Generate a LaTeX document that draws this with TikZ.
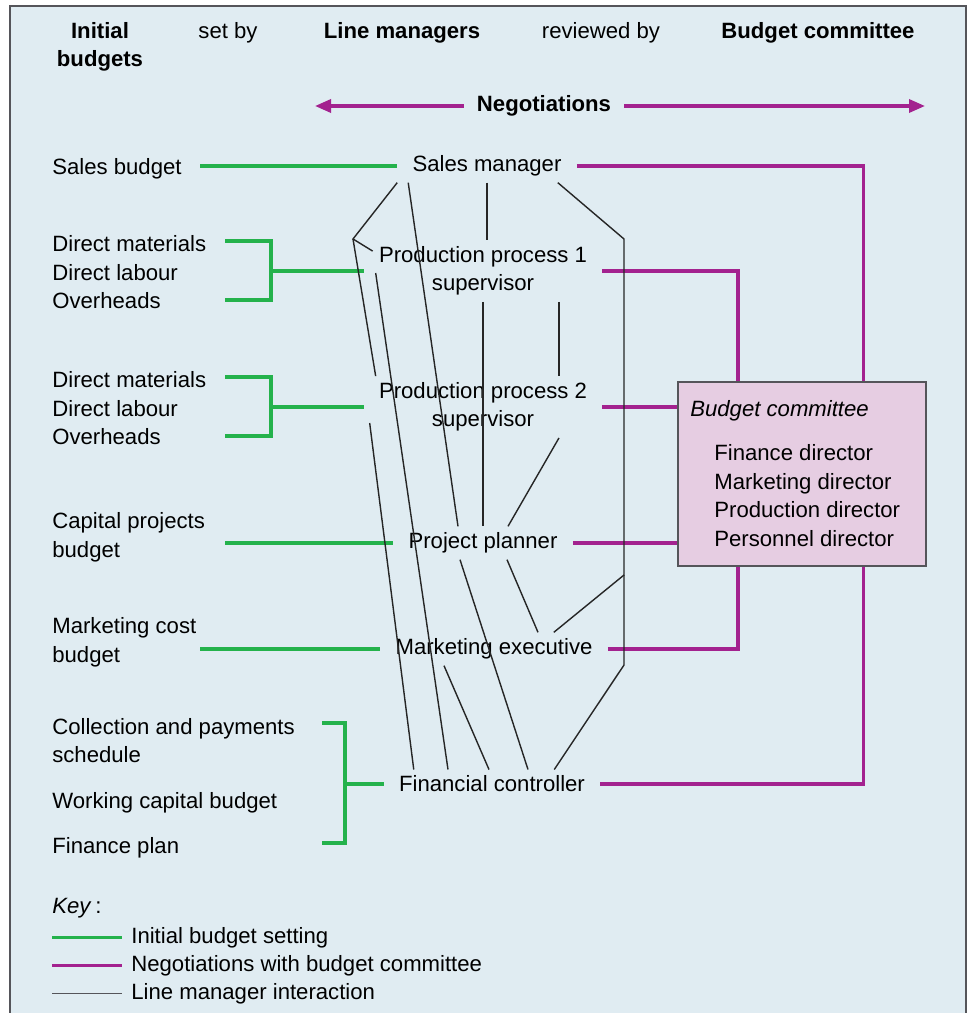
\documentclass[tikz,border=0pt]{standalone}
\usepackage{fontspec}
\setmainfont{Liberation Sans}
\usetikzlibrary{calc,arrows.meta}

\definecolor{bgblue}{RGB}{224,236,242}
\definecolor{boxpink}{RGB}{230,205,226}
\definecolor{negmag}{RGB}{163,34,143}
\definecolor{initgreen}{RGB}{36,178,76}
\definecolor{framegray}{RGB}{85,85,90}

\begin{document}
\begin{tikzpicture}[x=0.02cm, y=-0.02cm, font=\fontsize{12.6}{16.2}\selectfont]

    % Define styles
    \tikzstyle{txt} = [inner sep=0pt, anchor=west, align=left, yshift=-0.05cm]
    \tikzstyle{head} = [inner sep=0pt, align=center]
    \tikzstyle{mgr} = [inner xsep=0.3cm, inner ysep=0.12cm, align=center]
    \tikzstyle{grn} = [draw=initgreen, line width=1.9pt]
    \tikzstyle{mag} = [draw=negmag, line width=1.9pt]
    \tikzstyle{blk} = [draw=black!85, line width=0.8pt]
    \tikzstyle{combox} = [draw=framegray, fill=boxpink, line width=0.9pt, anchor=north west, minimum width=4.96cm, minimum height=3.68cm]

    % FRAME
    \useasboundingbox (0,0) rectangle (970,1013);
    \fill[bgblue] (10,6) rectangle (966,1013);
    \draw[framegray, line width=1.1pt] (10,1013) -- (10,6) -- (966,6) -- (966,1013);

    % HEADINGS
    \node (h_init) [head] at (100,47) {\bfseries Initial\\\bfseries budgets};
    \node (h_setby) [head] at (228,33) {set by};
    \node (h_mgr) [head] at (402,33) {\bfseries Line managers};
    \node (h_rev) [head] at (601,33) {reviewed by};
    \node (h_bc) [head] at (818,33) {\bfseries Budget committee};

    \node (neg) [inner xsep=0.26cm] at (544,106) {\bfseries Negotiations};
    \coordinate (neg_l) at (315,106);
    \coordinate (neg_r) at (925,106);
    \draw[mag, -{Triangle[length=0.32cm, width=0.26cm]}] (neg.west) -- (neg_l);
    \draw[mag, -{Triangle[length=0.32cm, width=0.26cm]}] (neg.east) -- (neg_r);

    % INITIAL BUDGETS
    \node (sb) [txt] at (52,166) {Sales budget};
    \node (grp1) [txt] at (52,270) {Direct materials\\Direct labour\\Overheads};
    \node (grp2) [txt] at (52,406) {Direct materials\\Direct labour\\Overheads};
    \node (cp) [txt] at (52,535) {Capital projects\\budget};
    \node (mc) [txt] at (52,640) {Marketing cost\\budget};
    \node (cps) [txt] at (52,738) {Collection and payments\\schedule};
    \node (wcb) [txt] at (52,800) {Working capital budget};
    \node (fp) [txt] at (52,845) {Finance plan};

    % LINE MANAGERS
    \node (sm) [mgr] at (487,166) {Sales manager};
    \node (pp1) [mgr] at (483,271) {Production process 1\\supervisor};
    \node (pp2) [mgr] at (483,407) {Production process 2\\supervisor};
    \node (pplan) [mgr] at (483,543) {Project planner};
    \node (me) [mgr] at (494,649) {Marketing executive};
    \node (fc) [mgr] at (492,784) {Financial controller};

    % BUDGET COMMITTEE
    \node (bc) [combox] at (677,381) {};
    \node (bc_title) [txt] at (690,408) {\itshape Budget committee};
    \node (bc_members) [txt, anchor=north west] at (714,442) {\fontsize{12.6}{17.4}\selectfont Finance director\\Marketing director\\Production director\\Personnel director};

    % INITIAL BUDGET SETTING
    \coordinate (sb_end) at (200,166);
    \coordinate (b1_t) at (225,241);
    \coordinate (b1_m) at (271,271);
    \coordinate (b1_b) at (225,300);
    \coordinate (b2_t) at (225,377);
    \coordinate (b2_m) at (271,407);
    \coordinate (b2_b) at (225,436);
    \coordinate (cp_end) at (225,543);
    \coordinate (mc_end) at (200,649);
    \coordinate (b3_t) at (322,723);
    \coordinate (b3_m) at (345,784);
    \coordinate (b3_b) at (322,843);

    \draw[grn] (sb_end) -- (sm.west);
    \draw[grn] (b1_t) -| (b1_m) |- (b1_b);
    \draw[grn] (b1_m) -- (pp1.west);
    \draw[grn] (b2_t) -| (b2_m) |- (b2_b);
    \draw[grn] (b2_m) -- (pp2.west);
    \draw[grn] (cp_end) -- (pplan.west);
    \draw[grn] (mc_end) -- (me.west);
    \draw[grn] (b3_t) -| (b3_m) |- (b3_b);
    \draw[grn] (b3_m) -- (fc.west);

    % NEGOTIATIONS
    \draw[mag] (sm.east) -| ($(bc.north east)+(-63,0)$);
    \draw[mag] (pp1.east) -| ($(bc.north west)+(61,0)$);
    \draw[mag] (pp2.east) -- (pp2.east -| bc.west);
    \draw[mag] (pplan.east) -- (pplan.east -| bc.west);
    \draw[mag] (me.east) -| ($(bc.south west)+(61,0)$);
    \draw[mag] (fc.east) -| ($(bc.south east)+(-63,0)$);

    % LINE MANAGER INTERACTION
    \coordinate (kink_l) at (353,239);
    \coordinate (kink_r1) at (624,239);
    \coordinate (kink_r2) at (624,575);
    \coordinate (kink_r3) at (624,665);

    \draw[blk] (sm.south west) -- (kink_l) -- ($(pp1.north west)+(9,11)$);
    \draw[blk] (kink_l) -- ($(pp2.north west)+(12,0)$);
    \draw[blk] ($(sm.south west)+(11,0)$) -- ($(pplan.north)+(-25,0)$);
    \draw[blk] (sm.south) -- (sm.south |- pp1.north);
    \draw[blk] ($(sm.south east)+(-19,0)$) -- (kink_r1) -- (kink_r2) -- ($(me.north east)+(-54,0)$);
    \draw[blk] (kink_r2) -- (kink_r3) -- ($(fc.north east)+(-46,0)$);
    \draw[blk] ($(pp1.west)+(12,2)$) -- ($(fc.north)+(-44,0)$);
    \draw[blk] (pp1.south) -- (pplan.north);
    \draw[blk] ($(pp1.south)+(76,0)$) -- ($(pp2.north)+(76,0)$);
    \draw[blk] ($(pp2.west)+(6,16)$) -- ($(fc.north west)+(30,0)$);
    \draw[blk] ($(pp2.south)+(76,0)$) -- ($(pplan.north)+(25,0)$);
    \draw[blk] ($(pplan.south)+(-23,0)$) -- ($(fc.north)+(36,0)$);
    \draw[blk] ($(pplan.south)+(24,0)$) -- ($(me.north)+(44,0)$);
    \draw[blk] ($(me.south)+(-50,0)$) -- ($(fc.north)+(-3,0)$);

    % KEY
    \node (key) [txt] at (52,906) {\textit{Key}\,:};
    \node (key_init) [txt] at (131,935) {Initial budget setting};
    \node (key_neg) [txt] at (131,963) {Negotiations with budget committee};
    \node (key_line) [txt] at (131,991) {Line manager interaction};
    \draw[grn] ($(key_init.west)+(-79,0)$) -- ($(key_init.west)+(-9,0)$);
    \draw[mag] ($(key_neg.west)+(-79,0)$) -- ($(key_neg.west)+(-9,0)$);
    \draw[draw=framegray, line width=1.1pt] ($(key_line.west)+(-79,0)$) -- ($(key_line.west)+(-9,0)$);

\end{tikzpicture}
\end{document}
